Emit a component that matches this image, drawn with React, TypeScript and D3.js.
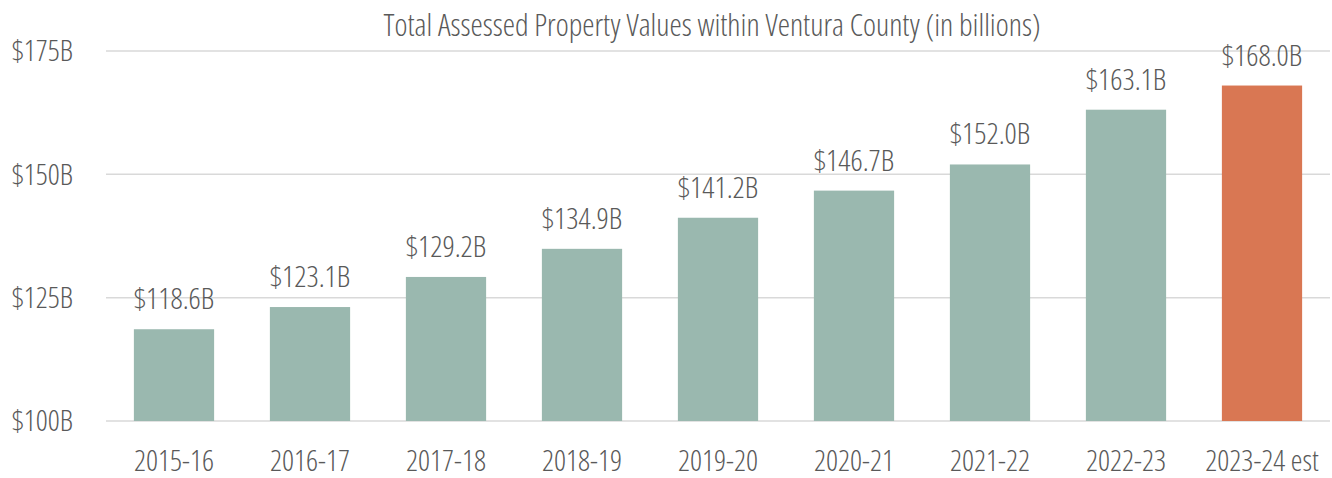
import React, { useRef, useEffect } from 'react';
import * as d3 from 'd3';

const years = ['2015-16', '2016-17', '2017-18', '2018-19', '2019-20', '2020-21', '2021-22', '2022-23', '2023-24 est'];
const values = [118.6, 123.1, 129.2, 134.9, 141.2, 146.7, 152.0, 163.1, 168.0];
const yTicks = [100, 125, 150, 175];

const FONT = '"Open Sans", sans-serif';

const App = () => {
    const svgRef = useRef<SVGSVGElement>(null);

    useEffect(() => {
        if (!svgRef.current) return;
        const width = 1332;
        const height = 478;
        const margin = { top: 51, right: 2, bottom: 57, left: 106 };

        const svg = d3.select(svgRef.current);
        svg.selectAll('*').remove();
        svg.attr('width', width).attr('height', height);

        const x = d3.scaleBand()
            .domain(years)
            .range([margin.left, width - margin.right])
            .paddingInner(0.41)
            .paddingOuter(0.205);

        const y = d3.scaleLinear()
            .domain([100, 175])
            .range([height - margin.bottom, margin.top]);

        const g = svg.append('g').style('font-family', FONT).style('font-stretch', '75%').style('font-weight', 300);

        // gridlines
        g.selectAll('.grid')
            .data(yTicks)
            .enter().append('line')
            .attr('x1', margin.left)
            .attr('x2', width - margin.right)
            .attr('y1', d => y(d))
            .attr('y2', d => y(d))
            .attr('stroke', '#d9d9d9')
            .attr('stroke-width', 1.5);

        g.selectAll('.ylab')
            .data(yTicks)
            .enter().append('text')
            .attr('x', 73)
            .attr('y', d => y(d))
            .attr('dy', '0.35em')
            .attr('text-anchor', 'end')
            .attr('fill', '#595959')
            .style('font-size', '29.5px')
            .text(d => `$${d}B`);

        g.selectAll('.bar')
            .data(values)
            .enter().append('rect')
            .attr('x', (_, i) => x(years[i]) as number)
            .attr('y', d => y(d))
            .attr('width', x.bandwidth())
            .attr('height', d => y(100) - y(d))
            .attr('fill', (_, i) => i === values.length - 1 ? '#d97753' : '#9ab8af');

        g.selectAll('.val')
            .data(values)
            .enter().append('text')
            .attr('x', (_, i) => (x(years[i]) as number) + x.bandwidth() / 2)
            .attr('y', d => y(d) - 20)
            .attr('text-anchor', 'middle')
            .attr('fill', '#595959')
            .style('font-size', '30px')
            .text(d => `$${d.toFixed(1)}B`);

        g.selectAll('.xlab')
            .data(years)
            .enter().append('text')
            .attr('x', d => (x(d) as number) + x.bandwidth() / 2)
            .attr('y', 471)
            .attr('text-anchor', 'middle')
            .attr('fill', '#595959')
            .style('font-size', '29.5px')
            .text(d => d);

        g.append('text')
            .attr('x', 712)
            .attr('y', 36)
            .attr('text-anchor', 'middle')
            .attr('fill', '#595959')
            .style('font-size', '31px')
            .text('Total Assessed Property Values within Ventura County (in billions)');
    }, []);

    return (
        <div style={{ position: 'absolute', left: 0, top: 0 }}>
            <svg ref={svgRef}></svg>
        </div>
    );
};

export default App;
